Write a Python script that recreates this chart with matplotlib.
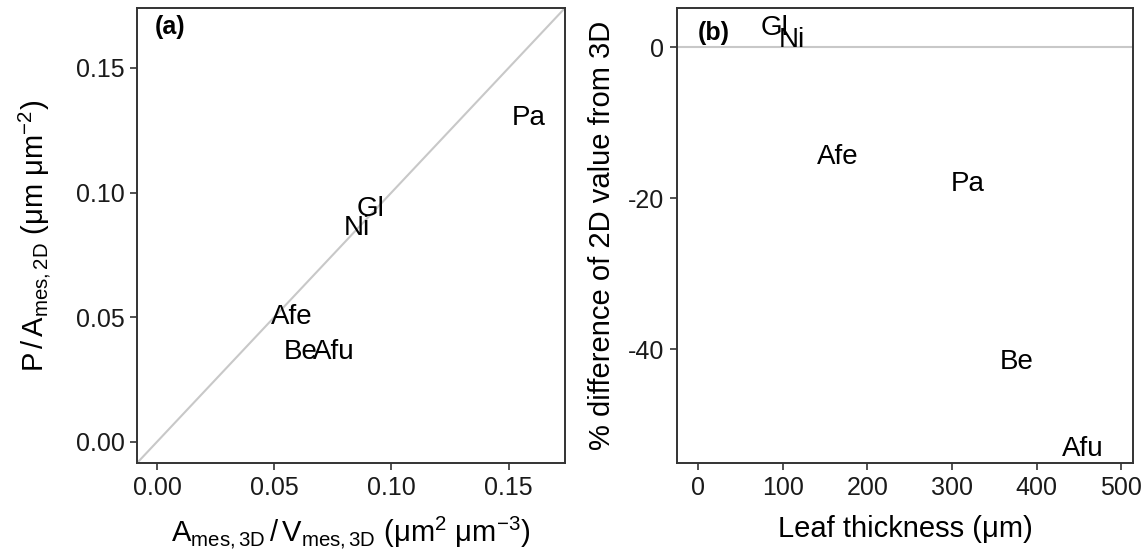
import matplotlib
matplotlib.use("Agg")
import matplotlib.pyplot as plt

plt.rcParams['font.family'] = ['Liberation Sans', 'DejaVu Sans']
plt.rcParams['mathtext.fontset'] = 'custom'
plt.rcParams['mathtext.rm'] = 'Liberation Sans'
plt.rcParams['mathtext.it'] = 'Liberation Sans:italic'

# panel (a): surface per volume 3D vs perimeter per area 2D
species = ["Pa", "Gl", "Ni", "Afe", "Be", "Afu"]
sv_3d = [0.1585, 0.0911, 0.0852, 0.0575, 0.0611, 0.0752]
pa_2d = [0.1300, 0.0935, 0.0858, 0.0500, 0.0362, 0.0362]

# panel (b): leaf thickness vs % difference
thickness = [319, 90, 111, 165, 376, 454]
pct_diff = [-18.1, 2.6, 1.0, -14.6, -41.7, -53.2]

edge = '#333333'
line_col = '#c8c8c8'

fig = plt.figure(figsize=(11.43, 5.52), dpi=100)
ax1 = fig.add_axes([0.1199, 0.1612, 0.3744, 0.8243])
ax2 = fig.add_axes([0.5923, 0.1612, 0.3990, 0.8243])

for ax in (ax1, ax2):
    for s in ax.spines.values():
        s.set_color(edge)
        s.set_linewidth(1.4)
    ax.tick_params(direction='out', length=5, width=1.2, color=edge,
                   labelsize=18, labelcolor='#1a1a1a', pad=4)

# (a)
lo, hi = -0.0085, 0.174
ax1.plot([lo, hi], [lo, hi], color=line_col, lw=1.5, zorder=1)
for s, x, y in zip(species, sv_3d, pa_2d):
    ax1.text(x, y, s, ha='center', va='center', fontsize=20, zorder=3)
ax1.set_xlim(lo, hi)
ax1.set_ylim(lo, hi)
ticks_a = [0.0, 0.05, 0.10, 0.15]
ticklabels_a = ["0.00", "0.05", "0.10", "0.15"]
ax1.set_xticks(ticks_a)
ax1.set_xticklabels(ticklabels_a)
ax1.set_yticks(ticks_a)
ax1.set_yticklabels(ticklabels_a)
ax1.set_xlabel(r'$\mathrm{A_{mes,3D}\,/\,V_{mes,3D}}$ (μm$^2$ μm$^{-3}$)',
               fontsize=21, labelpad=11)
ax1.set_ylabel(r'$\mathrm{P\,/\,A_{mes,2D}}$ (μm μm$^{-2}$)',
               fontsize=21, labelpad=16)
ax1.text(0.042, 0.958, "(a)", transform=ax1.transAxes, fontsize=18,
         fontweight='bold', ha='left', va='center')

# (b)
ax2.axhline(0, color=line_col, lw=1.5, zorder=1)
for s, x, y in zip(species, thickness, pct_diff):
    ax2.text(x, y, s, ha='center', va='center', fontsize=20, zorder=3)
ax2.set_xlim(-25, 514)
ax2.set_ylim(-55.1, 5.2)
ax2.set_xticks([0, 100, 200, 300, 400, 500])
ax2.set_yticks([0, -20, -40])
ax2.set_yticklabels(["0", "-20", "-40"])
ax2.set_xlabel('Leaf thickness (μm)', fontsize=21, labelpad=11)
ax2.set_ylabel('% difference of 2D value from 3D', fontsize=21, labelpad=9)
ax2.text(0.046, 0.945, "(b)", transform=ax2.transAxes, fontsize=18,
         fontweight='bold', ha='left', va='center')

fig.savefig("out.png", dpi=100)
